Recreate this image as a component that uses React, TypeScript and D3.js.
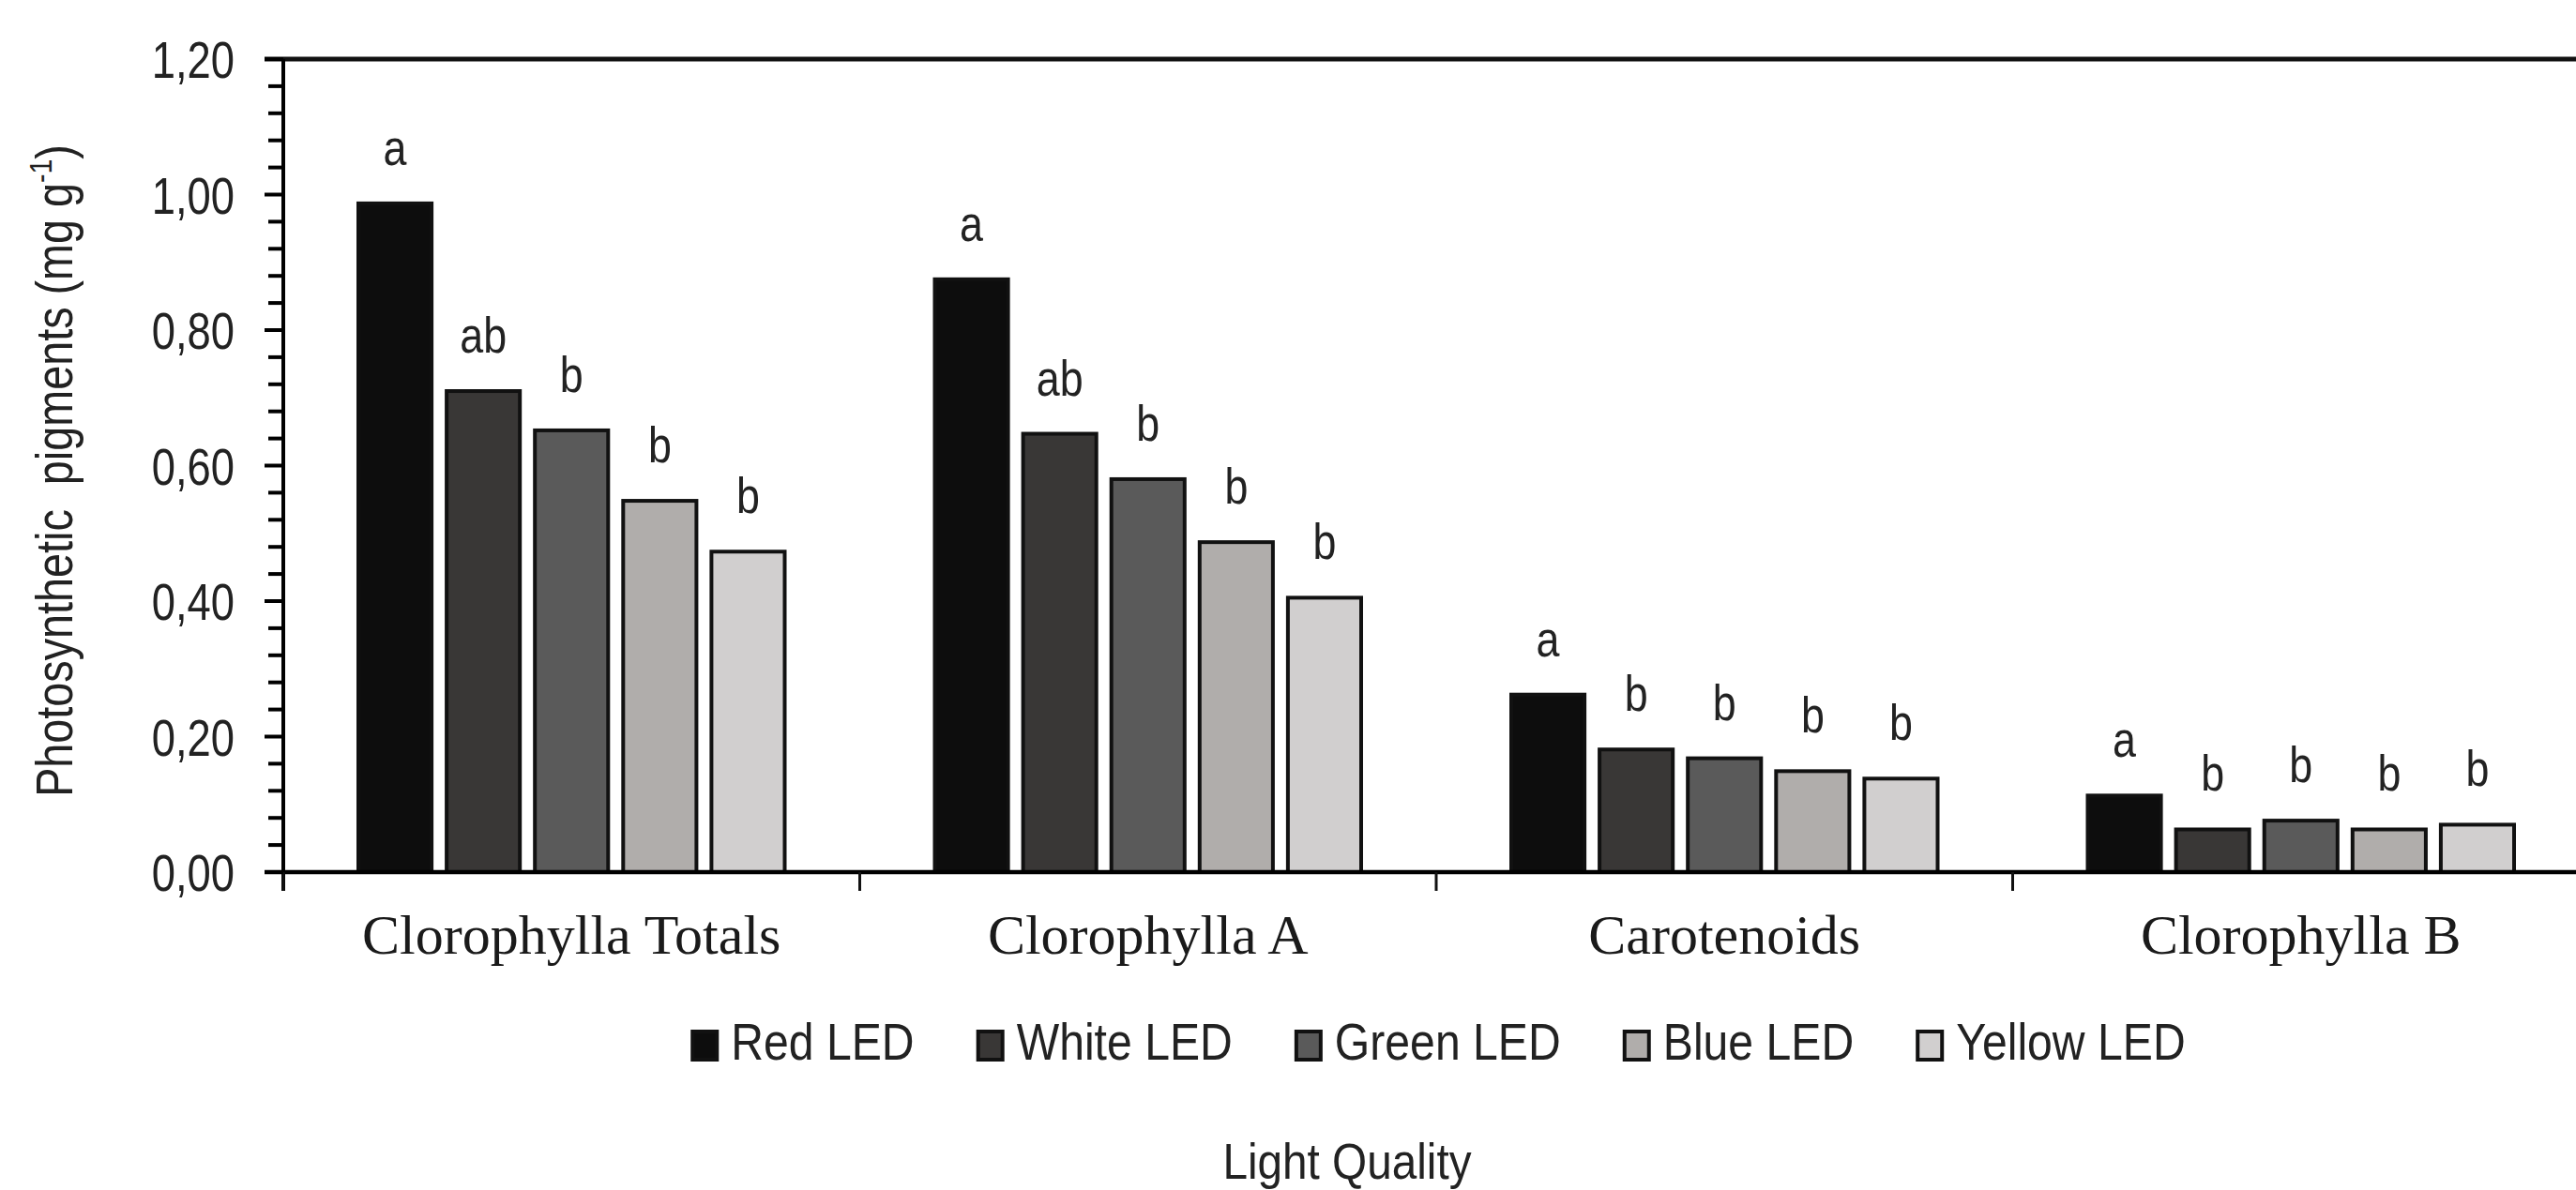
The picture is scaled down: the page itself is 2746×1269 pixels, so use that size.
import React from "react";
import * as d3 from "d3";

const categories = ["Clorophylla Totals", "Clorophylla A", "Carotenoids", "Clorophylla B"];
const series = ["Red LED", "White LED", "Green LED", "Blue LED", "Yellow LED"];
const seriesColors = ["#0d0d0d", "#393736", "#5a5a5a", "#b0adab", "#d1cfcf"];
const redLED = [0.987, 0.875, 0.262, 0.113];
const whiteLED = [0.71, 0.647, 0.181, 0.063];
const greenLED = [0.652, 0.58, 0.168, 0.076];
const blueLED = [0.548, 0.487, 0.149, 0.063];
const yellowLED = [0.473, 0.405, 0.138, 0.07];
const letters = [
  ["a", "ab", "b", "b", "b"],
  ["a", "ab", "b", "b", "b"],
  ["a", "b", "b", "b", "b"],
  ["a", "b", "b", "b", "b"],
];
const yTicks = [0, 0.2, 0.4, 0.6, 0.8, 1.0, 1.2];

const W = 2746;
const H = 1269;
const SANS = "'Liberation Sans', Arial, Helvetica, sans-serif";
const SERIF = "'Liberation Serif', 'Times New Roman', Times, serif";

function measure(text: string, size: number): number {
  if (typeof document === "undefined") return text.length * size * 0.55;
  const c = document.createElement("canvas");
  const ctx = c.getContext("2d");
  if (!ctx) return text.length * size * 0.55;
  ctx.font = `${size}px 'Liberation Sans', Arial, sans-serif`;
  return ctx.measureText(text).width;
}

export default function App() {
  const values = [redLED, whiteLED, greenLED, blueLED, yellowLED];
  const plotLeft = 302;
  const plotRight = 2760;
  const y = d3.scaleLinear().domain([0, 1.2]).range([930, 63]);
  const x0 = d3.scaleBand<string>().domain(categories).range([plotLeft, plotRight]).padding(0);
  const groupPad = 80;
  const x1 = d3
    .scaleBand<string>()
    .domain(series)
    .range([groupPad, x0.bandwidth() - groupPad])
    .paddingInner(0.17)
    .paddingOuter(0);

  const minorTicks = d3.range(0, 31).map((i) => i * 0.04).filter((v) => Math.abs(v / 0.2 - Math.round(v / 0.2)) > 1e-6);

  // legend layout
  const legFs = 56;
  const legScale = 0.86;
  const sqW = 30;
  const sqH = 34;
  const textGap = 13;
  const itemGap = 66;
  const widths = series.map((s) => measure(s, legFs) * legScale);
  const total = widths.reduce((a, b) => a + b, 0) + series.length * (sqW + textGap) + (series.length - 1) * itemGap;
  let cursor = 1533 - total / 2;
  const legendItems = series.map((s, i) => {
    const item = { name: s, x: cursor, color: seriesColors[i] };
    cursor += sqW + textGap + widths[i] + itemGap;
    return item;
  });

  return (
    <svg
      width={W}
      height={H}
      viewBox={`0 0 ${W} ${H}`}
      style={{ position: "absolute", left: 0, top: 0, background: "#fff" }}
    >
      <rect x={0} y={0} width={W} height={H} fill="#fff" />

      {/* bars */}
      {categories.map((c, ci) => (
        <g key={c} transform={`translate(${x0(c)},0)`}>
          {series.map((s, si) => {
            const v = values[si][ci];
            const bx = x1(s) as number;
            const bw = x1.bandwidth();
            return (
              <g key={s}>
                <rect
                  x={bx}
                  y={y(v)}
                  width={bw}
                  height={y(0) - y(v)}
                  fill={seriesColors[si]}
                  stroke="#111"
                  strokeWidth={4}
                />
                <text
                  transform={`translate(${bx + bw / 2},${y(v) - 41}) scale(0.83,1)`}
                  textAnchor="middle"
                  fontFamily={SANS}
                  fontSize={54}
                  fill="#222"
                >
                  {letters[ci][si]}
                </text>
              </g>
            );
          })}
        </g>
      ))}

      {/* top border */}
      <line x1={282} x2={W} y1={y(1.2)} y2={y(1.2)} stroke="#111" strokeWidth={5} />
      {/* x axis */}
      <line x1={282} x2={W} y1={y(0)} y2={y(0)} stroke="#000" strokeWidth={4.5} />
      {/* y axis */}
      <line x1={plotLeft} x2={plotLeft} y1={y(1.2)} y2={950} stroke="#000" strokeWidth={4} />

      {/* category ticks */}
      {categories.map((c) => (
        <line key={c} x1={x0(c)} x2={x0(c)} y1={y(0)} y2={950} stroke="#111" strokeWidth={3} />
      ))}

      {/* y ticks */}
      {yTicks.map((t) => (
        <g key={t}>
          <line x1={282} x2={plotLeft} y1={y(t)} y2={y(t)} stroke="#000" strokeWidth={4} />
          <text
            transform={`translate(250,${y(t) + 20}) scale(0.81,1)`}
            textAnchor="end"
            fontFamily={SANS}
            fontSize={56}
            fill="#222"
          >
            {t.toFixed(2).replace(".", ",")}
          </text>
        </g>
      ))}
      {minorTicks.map((t) => (
        <line key={t} x1={286} x2={plotLeft} y1={y(t)} y2={y(t)} stroke="#000" strokeWidth={4} />
      ))}

      {/* y title */}
      <text
        transform={`translate(77,502) rotate(-90) scale(0.835,1)`}
        textAnchor="middle"
        fontFamily={SANS}
        fontSize={56}
        fill="#222"
        style={{ whiteSpace: "pre" }}
      >
        {"Photosynthetic  pigments (mg g"}
        <tspan fontSize={34} dy={-22}>
          -1
        </tspan>
        <tspan dy={22}>)</tspan>
      </text>

      {/* category labels */}
      {categories.map((c) => (
        <text
          key={c}
          x={(x0(c) as number) + x0.bandwidth() / 2}
          y={1017}
          textAnchor="middle"
          fontFamily={SERIF}
          fontSize={60}
          fill="#1a1a1a"
        >
          {c}
        </text>
      ))}

      {/* legend */}
      {legendItems.map((it) => (
        <g key={it.name}>
          <rect
            x={it.x + 2}
            y={1100}
            width={sqW - 4}
            height={sqH - 4}
            fill={it.color}
            stroke="#111"
            strokeWidth={4}
          />
          <text
            transform={`translate(${it.x + sqW + textGap},1130) scale(${legScale},1)`}
            fontFamily={SANS}
            fontSize={legFs}
            fill="#222"
          >
            {it.name}
          </text>
        </g>
      ))}

      {/* x title */}
      <text
        transform={`translate(1436,1257) scale(0.9,1)`}
        textAnchor="middle"
        fontFamily={SANS}
        fontSize={53}
        fill="#222"
      >
        Light Quality
      </text>
    </svg>
  );
}
